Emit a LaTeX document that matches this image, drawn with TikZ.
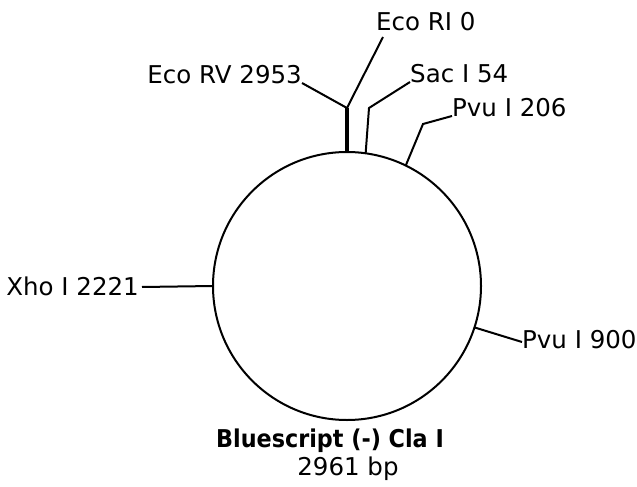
\documentclass[tikz,border=0pt]{standalone}
\usepackage{fontspec}
\setmainfont{DejaVu Sans}
\begin{document}
\begin{tikzpicture}[x=1pt,y=-1pt,
  lbl/.style={inner sep=0pt, font=\fontsize{24.5}{26}\selectfont},
  tick/.style={line width=2pt, line join=miter},
  ring/.style={draw, circle, minimum size=268pt, inner sep=0pt, outer sep=0pt, line width=2pt}]
\useasboundingbox[fill=white] (0,0) rectangle (637,487);
\node[ring] (plasmid) at (347,286) {};
% labels
\node[lbl, anchor=base west] (ecori) at (376,31) {Eco RI 0};
\node[lbl, anchor=base east] (ecorv) at (302,83) {Eco RV 2953};
\node[lbl, anchor=base west] (sac) at (410,82) {Sac I 54};
\node[lbl, anchor=base west] (pvu206) at (452,116) {Pvu I 206};
\node[lbl, anchor=base west] (pvu900) at (522,348) {Pvu I 900};
\node[lbl, anchor=base east] (xho) at (139,295) {Xho I 2221};
\node[lbl, anchor=base] (name) at (330,447) {\scalebox{0.91}[1]{\bfseries Bluescript (-) Cla I}};
\node[lbl, anchor=base] (size) at (348,475) {2961 bp};
% bend points
\coordinate (rv) at (347,108);
\coordinate (riend) at (383,37);
\coordinate (sacbend) at (369,108);
\coordinate (pvubend) at (423,124);
\coordinate (pvu9end) at (522,342);
\coordinate (xhoend) at (142,287);
% connectors
\draw[line width=3.8pt] (plasmid.90) -- (rv);
\draw[tick] (rv) -- (riend);
\draw[tick] (rv) -- (ecorv.base east);
\draw[tick] (plasmid.82.7) -- (sacbend) -- (sac.base west);
\draw[tick] (plasmid.64.7) -- (pvubend) -- (pvu206.base west);
\draw[tick] (plasmid.-18.2) -- (pvu9end);
\draw[tick] (plasmid.180) -- (xhoend);
\end{tikzpicture}
\end{document}
